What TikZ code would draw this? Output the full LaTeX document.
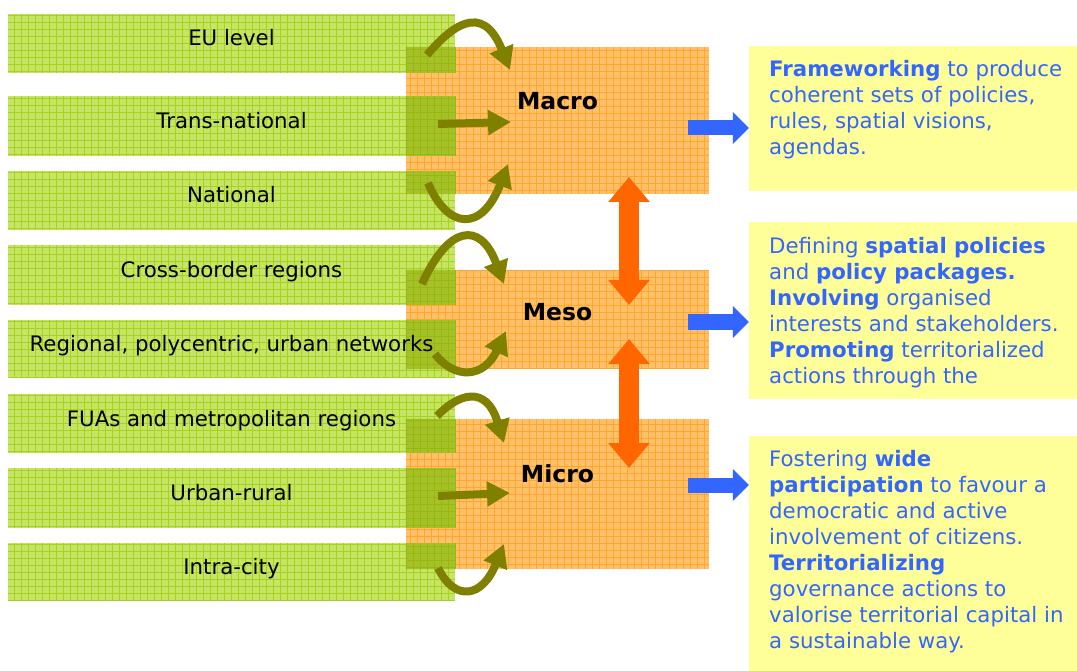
\documentclass[tikz,border=0pt]{standalone}
\usepackage{fontspec}
\setmainfont{DejaVu Sans}
\usetikzlibrary{arrows.meta}
\definecolor{gbase}{RGB}{198,229,100}
\definecolor{gline}{RGB}{166,210,34}
\definecolor{obase}{RGB}{255,192,105}
\definecolor{oline}{RGB}{255,166,45}
\definecolor{ovbase}{RGB}{166,192,40}
\definecolor{ovline}{RGB}{150,184,18}
\definecolor{olivearrow}{RGB}{128,128,0}
\definecolor{bluearrow}{RGB}{51,102,255}
\definecolor{orangearrow}{RGB}{255,102,0}
\definecolor{ybox}{RGB}{255,255,153}
\definecolor{btext}{RGB}{51,102,255}
\begin{document}
\begin{tikzpicture}[x=1pt,y=-1pt,
  gbox/.style={rectangle, inner sep=0pt, minimum width=447pt, fill=gbase,
    path picture={\draw[gline,line width=0.9pt] (path picture bounding box.south west) grid[step=7pt] (path picture bounding box.north east);}},
  obox/.style={rectangle, inner sep=0pt, minimum width=303pt, fill=obase,
    path picture={\draw[oline,line width=0.9pt] (path picture bounding box.south west) grid[step=7pt] (path picture bounding box.north east);}},
  ybx/.style={rectangle, inner sep=0pt, minimum width=328pt, fill=ybox},
  glabel/.style={inner sep=0pt, anchor=base, font=\fontsize{21.3}{25.9}\selectfont, text=black},
  olabel/.style={inner sep=0pt, anchor=base, font=\fontsize{23.5}{28}\selectfont\bfseries, text=black},
  btxt/.style={inner sep=0pt, anchor=north west, align=left, font=\fontsize{21.3}{25.9}\selectfont, text=btext},
  olarr/.style={draw=olivearrow, line width=8pt, -{Triangle[width=24pt,length=23pt]}},
  bluearr/.style={draw=bluearrow, line width=15pt, -{Triangle[width=31pt,length=16pt]}},
  orarr/.style={draw=orangearrow, line width=20pt, {Triangle[width=40pt,length=25pt]}-{Triangle[width=40pt,length=25pt]}},
]
\useasboundingbox (0,0) rectangle (1077,671);
% orange level boxes
\node[obox, minimum height=147pt] (macro) at (557.5,120.5) {};
\node[obox, minimum height=99pt]  (meso)  at (557.5,319.5) {};
\node[obox, minimum height=150pt] (micro) at (557.5,494) {};
% green boxes
\node[gbox, minimum height=59pt] (eu)    at (231.5,43.5) {};
\node[gbox, minimum height=60pt] (trans) at (231.5,126) {};
\node[gbox, minimum height=59pt] (nat)   at (231.5,200.5) {};
\node[gbox, minimum height=60pt] (cross) at (231.5,275) {};
\node[gbox, minimum height=58pt] (reg)   at (231.5,349) {};
\node[gbox, minimum height=59pt] (fua)   at (231.5,423.5) {};
\node[gbox, minimum height=60pt] (urb)   at (231.5,498) {};
\node[gbox, minimum height=58pt] (intra) at (231.5,572) {};
% overlap of green and orange
\begin{scope}
\clip (macro.north west) rectangle (macro.south east)
      (meso.north west) rectangle (meso.south east)
      (micro.north west) rectangle (micro.south east);
\foreach \n in {eu,trans,nat,cross,reg,fua,urb,intra}{
  \fill[ovbase] (\n.north west) rectangle (\n.south east);
  \draw[ovline,line width=0.9pt] (\n.south west) grid[step=7pt] (\n.north east);
}
\end{scope}
% yellow description boxes
\node[ybx, minimum height=145pt] (box1) at (913,118.5) {};
\node[ybx, minimum height=177pt] (box2) at (913,310.5) {};
\node[ybx, minimum height=236pt] (box3) at (913,554) {};
% green labels
\node[glabel] (teu)    at ([yshift=-2.5pt]eu.center)    {EU level};
\node[glabel] (ttrans) at ([yshift=-2.5pt]trans.center) {Trans-national};
\node[glabel] (tnat)   at ([yshift=-2.5pt]nat.center)   {National};
\node[glabel] (tcross) at ([yshift=-2.5pt]cross.center) {Cross-border regions};
\node[glabel] (treg)   at ([yshift=-2.5pt]reg.center)   {Regional, polycentric, urban networks};
\node[glabel] (tfua)   at ([yshift=-2.5pt]fua.center)   {FUAs and metropolitan regions};
\node[glabel] (turb)   at ([yshift=-2.5pt]urb.center)   {Urban-rural};
\node[glabel] (tintra) at ([yshift=-2.5pt]intra.center) {Intra-city};
% level labels
\node[olabel] (tmacro) at (557.5,110) {Macro};
\node[olabel] (tmeso)  at (557.5,320) {Meso};
\node[olabel] (tmicro) at (557.5,482) {Micro};
% description texts
\node[btxt] (d1) at (769,58.7) {\rule{0pt}{18pt}\textbf{Frameworking} to produce\\
coherent sets of policies,\\rules, spatial visions,\\agendas.};
\node[btxt] (d2) at (769,235.3) {\rule{0pt}{18pt}Defining \textbf{spatial policies}\\
and \textbf{policy packages.}\\\textbf{Involving} organised\\interests and stakeholders.\\
\textbf{Promoting} territorialized\\actions through the};
\node[btxt] (d3) at (769,448.7) {\rule{0pt}{18pt}Fostering \textbf{wide}\\
\textbf{participation} to favour a\\democratic and active\\involvement of citizens.\\
\textbf{Territorializing}\\governance actions to\\valorise territorial capital in\\a sustainable way.};
% olive arrows into Macro
\draw[olarr] (427,55) .. controls (450,28) and (482,0) .. (510,70);
\draw[olarr] (438,124) -- (511,122);
\draw[olarr] (428,183) .. controls (448,230) and (482,232) .. (508,164);
% olive arrows into Meso
\draw[olarr] (422,284) .. controls (448,226) and (480,220) .. (504,284);
\draw[olarr] (435,354) .. controls (455,380) and (484,378) .. (506,331);
% olive arrows into Micro
\draw[olarr] (437,416) .. controls (458,394) and (486,384) .. (504,443);
\draw[olarr] (438,496) -- (510,493);
\draw[olarr] (438,568) .. controls (455,602) and (482,598) .. (504,544);
% blue arrows
\coordinate (b1s) at (688,128);
\coordinate (b2s) at (688,322);
\coordinate (b3s) at (688,485);
\draw[bluearr] (b1s) -- (box1.west |- b1s);
\draw[bluearr] (b2s) -- (box2.west |- b2s);
\draw[bluearr] (b3s) -- (box3.west |- b3s);
% orange double arrows
\coordinate (o1a) at (629,177);
\coordinate (o1b) at (629,305);
\coordinate (o2a) at (629,339);
\coordinate (o2b) at (629,468);
\draw[orarr] (o1a) -- (o1b);
\draw[orarr] (o2a) -- (o2b);
\end{tikzpicture}
\end{document}
